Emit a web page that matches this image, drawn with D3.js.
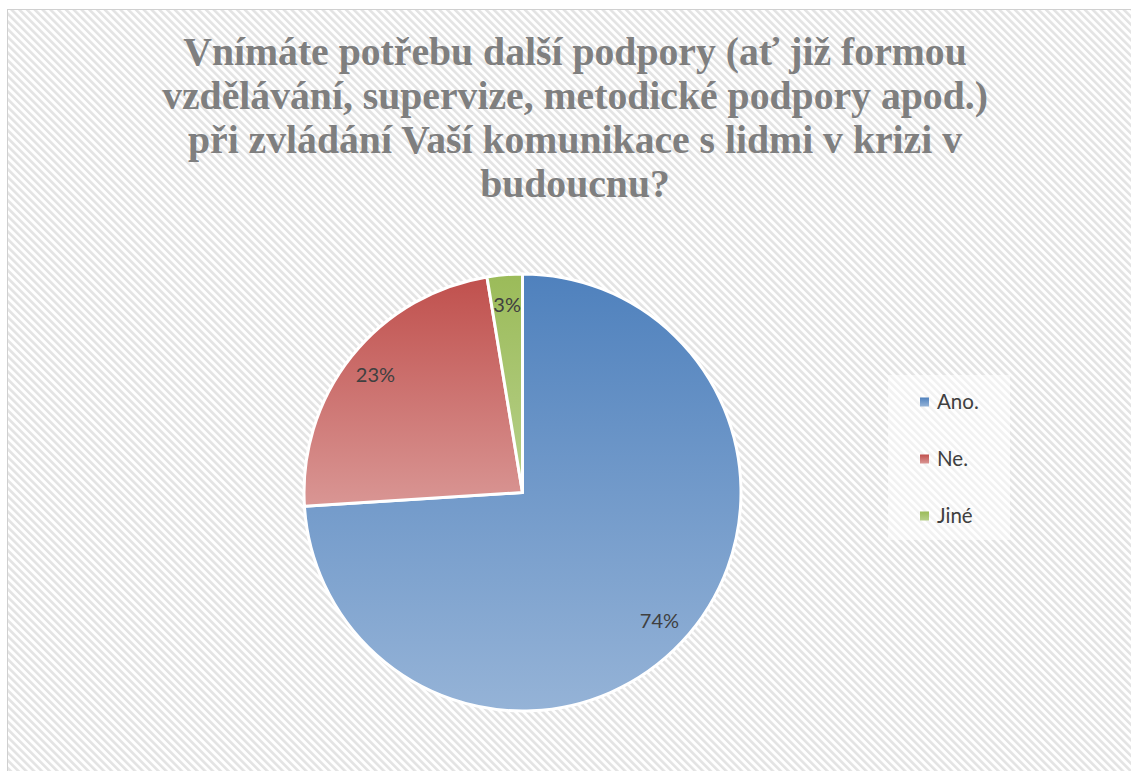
<!DOCTYPE html>
<html>
<head>
  <meta charset="utf-8">
  <title>Podpora v komunikaci</title>
  <script src="https://cdnjs.cloudflare.com/ajax/libs/d3/7.8.5/d3.min.js"></script>
  <style>
    html, body { margin: 0; padding: 0; background: #fff; }
    svg { display: block; }
  </style>
</head>
<body>
  <svg id="chart" width="1131" height="771"></svg>
  <script>
    // data
    const categories = ['Ano.', 'Ne.', 'Jiné']
    const values = [74.0, 23.4, 2.6]
    const titleLines = [
      'Vnímáte potřebu další podpory (ať již formou',
      'vzdělávání, supervize, metodické podpory apod.)',
      'při zvládání Vaší komunikace s lidmi v krizi v',
      'budoucnu?'
    ]

    const colorsTop = ['#4f81bd', '#c0504d', '#9bbb59']
    const colorsBottom = ['#95b3d7', '#d99694', '#b7d08a']

    const width = 1131
    const height = 771
    const cx = 522.5, cy = 492.5, radius = 218.5

    const svg = d3.select('#chart')
    const defs = svg.append('defs')

    // striped background
    const pat = defs.append('pattern')
      .attr('id', 'stripes')
      .attr('patternUnits', 'userSpaceOnUse')
      .attr('width', 5.5).attr('height', 5.5)
      .attr('patternTransform', 'rotate(-45)')
    pat.append('rect').attr('width', 5.5).attr('height', 5.5).attr('fill', '#ffffff')
    pat.append('rect').attr('width', 2.6).attr('height', 5.5).attr('fill', '#e3e3e3')

    svg.append('rect')
      .attr('x', 7.5).attr('y', 9.5)
      .attr('width', width).attr('height', height)
      .attr('fill', 'url(#stripes)')
      .attr('stroke', '#d0d0d0')

    categories.forEach((c, i) => {
      const g = defs.append('linearGradient')
        .attr('id', 'grad' + i)
        .attr('x1', 0).attr('y1', 0).attr('x2', 0).attr('y2', 1)
      g.append('stop').attr('offset', '0%').attr('stop-color', colorsTop[i])
      g.append('stop').attr('offset', '100%').attr('stop-color', colorsBottom[i])
    })

    // title
    const title = svg.append('text')
      .attr('text-anchor', 'middle')
      .attr('font-family', '"Liberation Serif", serif')
      .attr('font-weight', 'bold')
      .attr('fill', '#7f7f7f')
      .attr('font-size', 34)
    title.selectAll('tspan')
      .data(titleLines)
      .join('tspan')
      .attr('x', 575)
      .attr('y', (d, i) => 65 + i * 44)
      .text(d => d)
    // fit first line to the width seen in the picture
    const w0 = title.select('tspan').node().getComputedTextLength()
    title.attr('font-size', 34 * 784 / w0)

    // pie
    const pie = d3.pie().sort(null).value(d => d)
    const arcs = pie(values)
    const arc = d3.arc().innerRadius(0).outerRadius(radius)
    const labelArc = d3.arc().innerRadius(radius * 0.86).outerRadius(radius * 0.86)
    const total = d3.sum(values)

    const pieG = svg.append('g').attr('transform', `translate(${cx},${cy})`)
    pieG.selectAll('path')
      .data(arcs)
      .join('path')
      .attr('d', arc)
      .attr('fill', (d, i) => `url(#grad${i})`)
      .attr('stroke', '#ffffff')
      .attr('stroke-width', 3)
      .attr('stroke-linejoin', 'round')

    pieG.selectAll('text')
      .data(arcs)
      .join('text')
      .attr('transform', d => `translate(${labelArc.centroid(d)})`)
      .attr('text-anchor', 'middle')
      .attr('dy', '0.35em')
      .attr('font-family', 'Lato, "Open Sans", sans-serif')
      .attr('font-size', 20)
      .attr('fill', '#404040')
      .text(d => Math.round(d.value / total * 100) + '%')

    // legend
    const legend = svg.append('g')
    legend.append('rect')
      .attr('x', 888).attr('y', 375)
      .attr('width', 122).attr('height', 165)
      .attr('fill', '#ffffff').attr('fill-opacity', 0.5)
    const ly = d3.scalePoint().domain(categories).range([402, 516])
    const items = legend.selectAll('g.item')
      .data(categories)
      .join('g')
      .attr('class', 'item')
      .attr('transform', d => `translate(920,${ly(d)})`)
    items.append('rect')
      .attr('x', 0).attr('y', -4.5)
      .attr('width', 9).attr('height', 9)
      .attr('fill', (d, i) => `url(#grad${i})`)
    items.append('text')
      .attr('x', 17).attr('dy', '0.35em')
      .attr('font-family', 'Lato, "Open Sans", sans-serif')
      .attr('font-size', 20.5)
      .attr('fill', '#404040')
      .text(d => d)
  </script>
</body>
</html>
